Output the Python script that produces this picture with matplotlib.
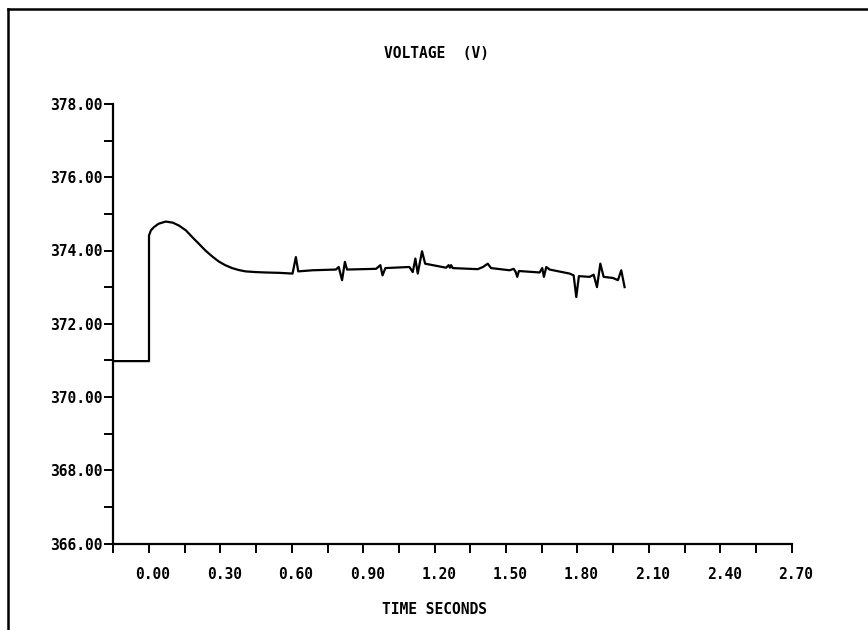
import matplotlib
matplotlib.use("Agg")
import matplotlib.pyplot as plt
import matplotlib.transforms as mtransforms
from matplotlib.lines import Line2D
from matplotlib.ticker import FixedLocator, NullFormatter

# Bus voltage response (time in seconds, voltage in V)
time_s = [
    -0.15, 0.000, 0.000, 0.008, 0.021, 0.040, 0.070, 0.100, 0.126, 0.155,
    0.181, 0.210, 0.237, 0.265, 0.293, 0.320, 0.349, 0.375, 0.405, 0.450,
    0.489, 0.547, 0.603, 0.617, 0.627, 0.687, 0.785, 0.797, 0.811, 0.823,
    0.832, 0.954, 0.972, 0.981, 0.993, 1.094, 1.108, 1.119, 1.129, 1.147,
    1.160, 1.248, 1.259, 1.264, 1.269, 1.276, 1.381, 1.403, 1.423, 1.437,
    1.515, 1.532, 1.540, 1.547, 1.554, 1.641, 1.652, 1.659, 1.669, 1.683,
    1.767, 1.784, 1.795, 1.806, 1.851, 1.868, 1.882, 1.896, 1.910, 1.949,
    1.970, 1.984, 1.998,
]
voltage_v = [
    370.98, 370.98, 374.41, 374.55, 374.64, 374.73, 374.79, 374.76, 374.68, 374.55,
    374.37, 374.18, 374.00, 373.84, 373.70, 373.60, 373.52, 373.47, 373.43, 373.41,
    373.40, 373.39, 373.37, 373.82, 373.43, 373.46, 373.48, 373.55, 373.19, 373.69,
    373.48, 373.50, 373.60, 373.32, 373.52, 373.55, 373.41, 373.78, 373.37, 373.98,
    373.64, 373.53, 373.60, 373.53, 373.60, 373.52, 373.49, 373.55, 373.64, 373.52,
    373.46, 373.50, 373.42, 373.28, 373.44, 373.40, 373.52, 373.28, 373.55, 373.48,
    373.37, 373.32, 372.73, 373.30, 373.28, 373.34, 373.00, 373.64, 373.28, 373.25,
    373.19, 373.46, 373.00,
]

x_major = [0.00, 0.30, 0.60, 0.90, 1.20, 1.50, 1.80, 2.10, 2.40, 2.70]
x_labels = ["0.00", "0.30", "0.60", "0.90", "1.20", "1.50", "1.80", "2.10", "2.40", "2.70"]
x_minor = [-0.15, 0.15, 0.45, 0.75, 1.05, 1.35, 1.65, 1.95, 2.25, 2.55]
y_major = [366, 368, 370, 372, 374, 376, 378]
y_labels = ["366.00", "368.00", "370.00", "372.00", "374.00", "376.00", "378.00"]
y_minor = [367, 369, 371, 373, 375, 377]

title_text = "VOLTAGE  (V)"
xlabel_text = "TIME SECONDS"

W, H = 868, 630
fig = plt.figure(figsize=(W / 100, H / 100), dpi=100)
fig.patch.set_facecolor("white")

left, right, top, bottom = 113.3, 791.7, 104.0, 543.5
ax = fig.add_axes([left / W, 1 - bottom / H, (right - left) / W, (bottom - top) / H])
ax.set_facecolor("white")

ax.plot(time_s, voltage_v, color="black", lw=1.6, solid_joinstyle="round")

ax.set_xlim(-0.15, 2.70)
ax.set_ylim(366, 378)

for side in ("top", "right"):
    ax.spines[side].set_visible(False)
for side in ("left", "bottom"):
    ax.spines[side].set_linewidth(1.6)
    ax.spines[side].set_color("black")

font = dict(family="DejaVu Sans Mono", weight="bold", size=10.5)

ax.xaxis.set_major_locator(FixedLocator(x_major))
ax.xaxis.set_minor_locator(FixedLocator(x_minor))
ax.set_xticklabels(x_labels, **font)
ax.xaxis.set_minor_formatter(NullFormatter())
ax.yaxis.set_major_locator(FixedLocator(y_major))
ax.yaxis.set_minor_locator(FixedLocator(y_minor))
ax.set_yticklabels(y_labels, **font)
ax.yaxis.set_minor_formatter(NullFormatter())

ax.tick_params(axis="both", which="both", direction="out", length=6.5, width=1.4, color="black")
ax.tick_params(axis="x", which="major", pad=10.5)
ax.tick_params(axis="y", which="major", pad=1)

# nudge x tick labels slightly to the right
shift = mtransforms.ScaledTranslation(4 / 100, 0, fig.dpi_scale_trans)
for lbl in ax.get_xticklabels():
    lbl.set_transform(lbl.get_transform() + shift)

fig.text(437 / W, 1 - 54 / H, title_text, ha="center", va="center", **font)
fig.text(435 / W, 1 - 609 / H, xlabel_text, ha="center", va="center", **font)

# page frame
fig.add_artist(Line2D([8 / W, 1.0], [1 - 9 / H, 1 - 9 / H], transform=fig.transFigure,
                      color="black", lw=1.8))
fig.add_artist(Line2D([8 / W, 8 / W], [1 - 9 / H, 0.0], transform=fig.transFigure,
                      color="black", lw=1.8))

fig.savefig("out.png", dpi=100, facecolor="white")
